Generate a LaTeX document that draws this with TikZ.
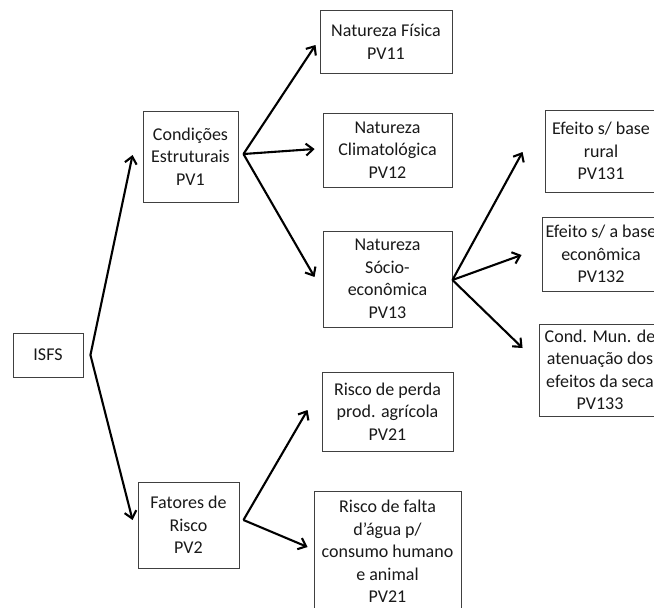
\documentclass[tikz,border=0pt]{standalone}
\usepackage{fontspec}
\setmainfont{Carlito}
\usetikzlibrary{arrows.meta}
\begin{document}
\begin{tikzpicture}[x=1pt,y=-1pt,
  box/.style={draw=black!75,line width=0.9pt,align=center,inner sep=0pt,
    font=\fontsize{18}{22.5}\selectfont,text=black!90},
  arr/.style={line width=2.1pt,-{Straight Barb[length=7pt,width=12pt]}}]
\useasboundingbox (0,0) rectangle (654,608);
\clip (0,0) rectangle (654,608);
\fill[white] (0,0) rectangle (654,608);
% nodes
\node[box,minimum width=70pt,minimum height=44pt] (isfs) at (48,355) {ISFS};
\node[box,minimum width=95pt,minimum height=91pt] (ce) at (190.5,156.5) {Condições\\Estruturais\\PV1};
\node[box,minimum width=101pt,minimum height=86pt] (fr) at (188.5,525) {Fatores de\\Risco\\PV2};
\node[box,minimum width=132pt,minimum height=63pt] (nf) at (386,42) {Natureza Física\\PV11};
\node[box,minimum width=129pt,minimum height=74pt] (nc) at (387.5,150) {Natureza\\Climatológica\\PV12};
\node[box,minimum width=129pt,minimum height=96pt] (ns) at (387.5,279) {Natureza\\Sócio-\\econômica\\PV13};
\node[box,minimum width=131pt,minimum height=79pt] (rp) at (387.5,411.5) {Risco de perda\\prod. agrícola\\PV21};
\node[box,minimum width=147pt,minimum height=121pt] (rf) at (387.5,551.5) {Risco de falta\\d’água p/\\consumo humano\\e animal\\PV21};
\node[box,minimum width=112pt,minimum height=82pt] (e1) at (601,151) {Efeito s/ base\\rural\\PV131};
\node[box,minimum width=118pt,minimum height=74pt] (e2) at (601,254) {Efeito s/ a base\\econômica\\PV132};
\node[box,minimum width=122pt,minimum height=92pt] (e3) at (600,370) {Cond. Mun. de\\atenuação dos\\efeitos da seca\\PV133};
% connectors
\draw[arr] ([xshift=7pt]isfs.east) -- ([xshift=-10pt,yshift=1.5pt]ce.west);
\draw[arr] ([xshift=7pt]isfs.east) -- ([xshift=-5pt,yshift=5pt]fr.west);
\draw[arr] ([xshift=5pt,yshift=2.5pt]ce.east) -- ([xshift=-4pt,yshift=-3pt]nf.west);
\draw[arr] ([xshift=5pt,yshift=2.5pt]ce.east) -- ([xshift=-8pt,yshift=1pt]nc.west);
\draw[arr] ([xshift=5pt,yshift=2.5pt]ce.east) -- ([xshift=-8pt,yshift=2pt]ns.west);
\draw[arr] ([yshift=-1pt]ns.east) -- ([xshift=-22pt,yshift=-1pt]e1.west);
\draw[arr] ([yshift=-1pt]ns.east) -- ([xshift=-20pt,yshift=-1pt]e2.west);
\draw[arr] ([yshift=-1pt]ns.east) -- ([xshift=-16pt,yshift=22pt]e3.west);
\draw[arr] ([xshift=4pt,yshift=5pt]fr.east) -- ([xshift=-14pt,yshift=1.5pt]rp.west);
\draw[arr] ([xshift=4pt,yshift=5pt]fr.east) -- ([xshift=-6pt,yshift=4.5pt]rf.west);
\end{tikzpicture}
\end{document}
